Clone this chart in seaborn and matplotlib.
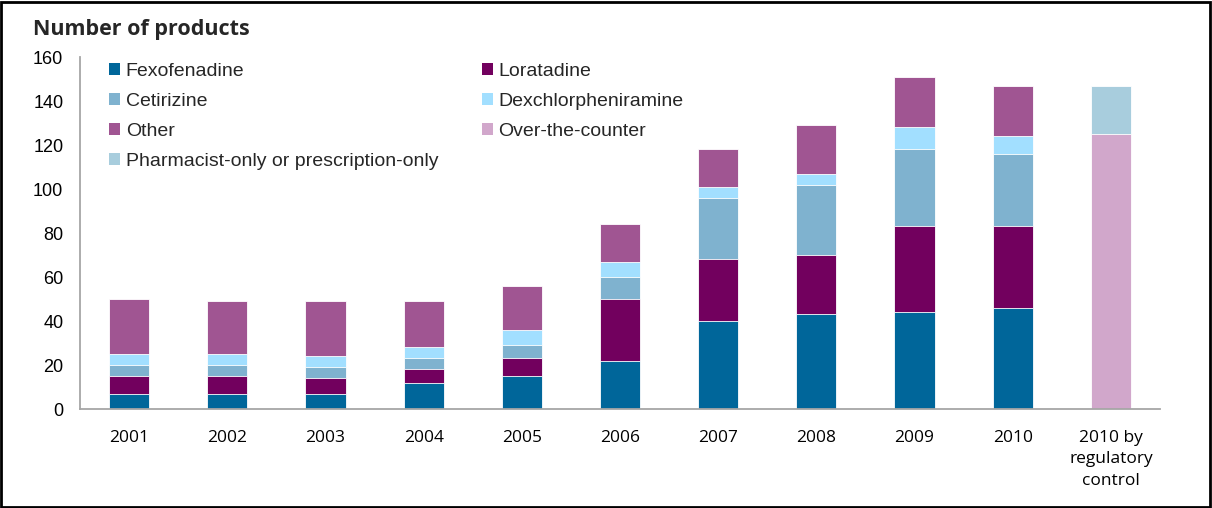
import matplotlib
matplotlib.use("Agg")
import matplotlib.pyplot as plt
from matplotlib.patches import Patch, Rectangle
import numpy as np
import pandas as pd
import seaborn as sns

categories = ["2001", "2002", "2003", "2004", "2005", "2006", "2007", "2008",
              "2009", "2010", "2010 by\nregulatory\ncontrol"]
years = categories[:10]
fexofenadine = [7, 7, 7, 12, 15, 22, 40, 43, 44, 46]
loratadine = [8, 8, 7, 6, 8, 28, 28, 27, 39, 37]
cetirizine = [5, 5, 5, 5, 6, 10, 28, 32, 35, 33]
dexchlorpheniramine = [5, 5, 5, 5, 7, 7, 5, 5, 10, 8]
other = [25, 24, 25, 21, 20, 17, 17, 22, 23, 23]
reg_category = [categories[10]]
over_the_counter = [125]
pharmacist_or_prescription = [22]

colors = {
    "Fexofenadine": "#00669A",
    "Loratadine": "#72005E",
    "Cetirizine": "#7FB2CF",
    "Dexchlorpheniramine": "#A2DFFF",
    "Other": "#A05592",
    "Over-the-counter": "#D1A7CB",
    "Pharmacist-only or prescription-only": "#A8CDDD",
}

sns.set_theme(style="white")
plt.rcParams["font.family"] = ["Liberation Sans", "DejaVu Sans"]

fig = plt.figure(figsize=(12.12, 5.08), dpi=100)
ax = fig.add_axes([80 / 1212, 1 - 409 / 508, 1080 / 1212, 352 / 508])

# stacked segments for the yearly bars
year_layers = [("Fexofenadine", fexofenadine), ("Loratadine", loratadine),
               ("Cetirizine", cetirizine), ("Dexchlorpheniramine", dexchlorpheniramine),
               ("Other", other)]
cum = np.zeros(len(years))
cum_layers = []
for name, vals in year_layers:
    cum = cum + np.array(vals, dtype=float)
    cum_layers.append((name, cum.copy()))

reg_layers = [("Over-the-counter", over_the_counter),
              ("Pharmacist-only or prescription-only", pharmacist_or_prescription)]
rcum = np.zeros(1)
rcum_layers = []
for name, vals in reg_layers:
    rcum = rcum + np.array(vals, dtype=float)
    rcum_layers.append((name, rcum.copy()))

bw = 0.41
for name, c in reversed(cum_layers):
    df = pd.DataFrame({"cat": years, "val": c})
    sns.barplot(data=df, x="cat", y="val", order=categories, color=colors[name],
                width=bw, saturation=1, edgecolor="white", linewidth=0.6, ax=ax)
for name, c in reversed(rcum_layers):
    df = pd.DataFrame({"cat": reg_category, "val": c})
    sns.barplot(data=df, x="cat", y="val", order=categories, color=colors[name],
                width=bw, saturation=1, edgecolor="white", linewidth=0.6, ax=ax)

ax.set_xlim(-0.5, 10.5)
ax.set_ylim(0, 160)
ax.set_yticks(range(0, 161, 20))
ax.set_xlabel("")
ax.set_ylabel("")
for s in ["top", "right"]:
    ax.spines[s].set_visible(False)
for s in ["left", "bottom"]:
    ax.spines[s].set_color("#A6A6A6")
    ax.spines[s].set_linewidth(1.3)
ax.tick_params(axis="both", length=0)
ax.tick_params(axis="y", pad=12, labelsize=13, labelcolor="#000000")
ax.tick_params(axis="x", pad=15, labelcolor="#000000")
for lab in ax.get_xticklabels():
    lab.set_fontfamily(["Open Sans", "DejaVu Sans"])
    lab.set_fontsize(12.5)
    lab.set_linespacing(1.45)

order = ["Fexofenadine", "Cetirizine", "Other", "Pharmacist-only or prescription-only",
         "Loratadine", "Dexchlorpheniramine", "Over-the-counter"]
handles = [Patch(facecolor=colors[n], edgecolor="none", label=n) for n in order]
leg = ax.legend(handles=handles, ncol=2, loc="upper left",
                bbox_to_anchor=(0.027, 0.983), frameon=False,
                fontsize=14, handlelength=0.55, handleheight=0.55,
                handletextpad=0.3, labelspacing=0.67, columnspacing=2.25,
                borderpad=0, borderaxespad=0)

fig.text(33 / 1212, 1 - 30 / 508, "Number of products", fontsize=15.5,
         fontweight="bold", family=["Open Sans", "DejaVu Sans"], va="center", ha="left")

fig.patches.append(Rectangle((0.001, 0.002), 0.997, 0.995, transform=fig.transFigure,
                             fill=False, edgecolor="black", linewidth=2))

fig.savefig("out.png", dpi=100)
